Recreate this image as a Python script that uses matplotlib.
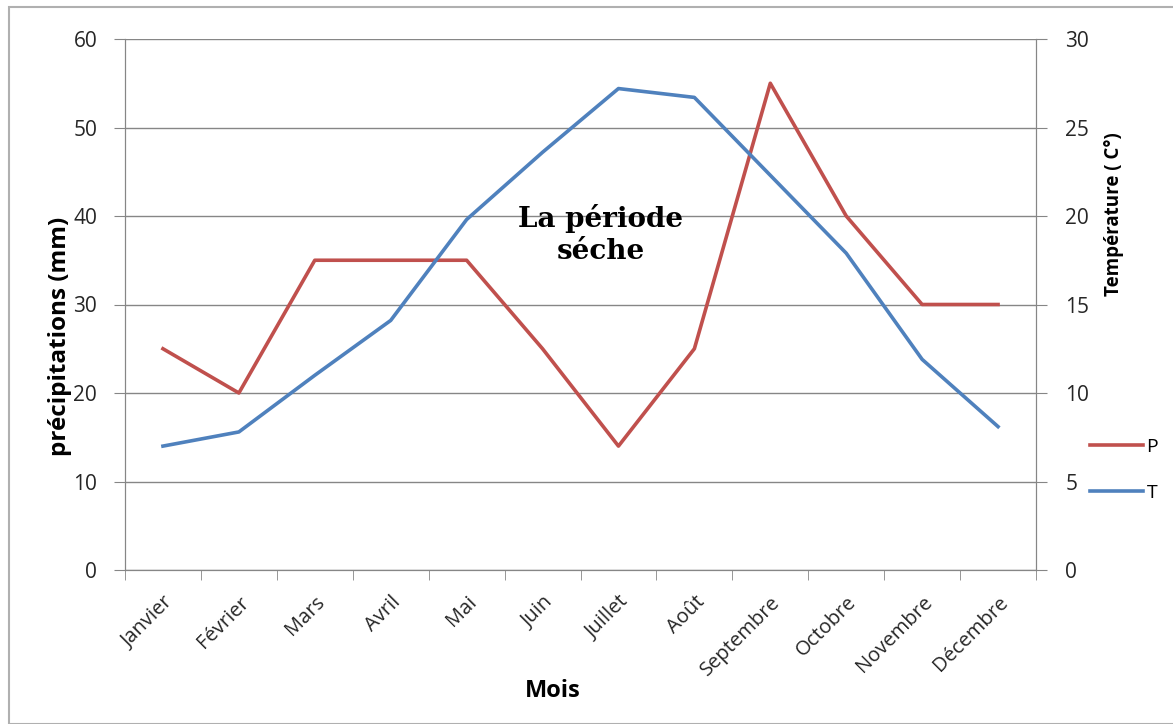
import numpy as np
import matplotlib.pyplot as plt
import matplotlib.transforms as mtransforms
from matplotlib.patches import Rectangle

mois = ["Janvier", "Février", "Mars", "Avril", "Mai", "Juin", "Juillet",
        "Août", "Septembre", "Octobre", "Novembre", "Décembre"]
precip = [25, 20, 35, 35, 35, 25, 14, 25, 55, 40, 30, 30]
temp = [7.0, 7.8, 11.0, 14.1, 19.8, 23.6, 27.2, 26.7, 22.3, 17.9, 11.9, 8.1]

red = "#c0504d"
blue = "#4f81bd"
gris = "#868686"
plt.rcParams['font.family'] = ['Open Sans', 'DejaVu Sans']

W, H = 1173, 724
fig = plt.figure(figsize=(W/100, H/100), dpi=100)
ax = fig.add_axes([125/W, 1-570/H, (1036-125)/W, (570-39)/H])
ax2 = ax.twinx()

x = np.arange(len(mois))
lp, = ax.plot(x, precip, color=red, lw=2.6, label="P", zorder=3)
lt, = ax2.plot(x, temp, color=blue, lw=2.6, label="T", zorder=3)

ax.set_xlim(-0.5, 11.5)
ax.set_ylim(0, 60)
ax2.set_ylim(0, 30)
ax.set_yticks(range(0, 61, 10))
ax2.set_yticks(range(0, 31, 5))
ax.yaxis.grid(True, color=gris, lw=1)
ax.set_axisbelow(True)

ax.set_xticks(x)
ax.set_xticklabels(mois, rotation=45, ha="right", rotation_mode="anchor",
                   fontsize=14.5, color="#262626")
decal = mtransforms.ScaledTranslation(8/100, 0, fig.dpi_scale_trans)
for lab in ax.get_xticklabels():
    lab.set_transform(lab.get_transform() + decal)
ax.set_xticks(np.arange(-0.5, 12, 1), minor=True)
ax.tick_params(axis="x", which="major", length=0, pad=16)
ax.tick_params(axis="x", which="minor", length=7, color=gris, direction="out")
ax.tick_params(axis="y", length=8, color=gris, labelsize=15, pad=12, labelcolor="#262626")
ax2.tick_params(axis="y", length=8, color=gris, labelsize=15, pad=13, labelcolor="#262626")

for a in (ax, ax2):
    for s in a.spines.values():
        s.set_color(gris)
    a.spines["top"].set_visible(False)

ax.set_ylabel("précipitations (mm)", fontsize=17.5, fontweight="bold")
ax.yaxis.set_label_coords(-0.058, 0.44)
ax2.set_ylabel("Température ( C°)", fontsize=13.5, fontweight="bold")
ax2.yaxis.set_label_coords(1.075, 0.67)
ax.set_xlabel("Mois", fontsize=17, fontweight="bold")
ax.xaxis.set_label_coords(0.47, -0.205)

ax.text(5.77, 37.9, "La période\nséche", ha="center", va="center", fontsize=20,
        fontweight="bold", family="DejaVu Serif", linespacing=1.25, zorder=4)

fig.legend(handles=[lp, lt], loc="center left", bbox_to_anchor=(1090/W, 1-470/H),
           frameon=False, fontsize=14, handlelength=2.7, handletextpad=0.2,
           labelspacing=1.45, borderaxespad=0, borderpad=0)

fig.patches.append(Rectangle((9/W, 0), 1.0, 1-7/H, transform=fig.transFigure,
                             fill=False, edgecolor="#b0b0b0", lw=1.5))

fig.savefig("out.png", dpi=100)
